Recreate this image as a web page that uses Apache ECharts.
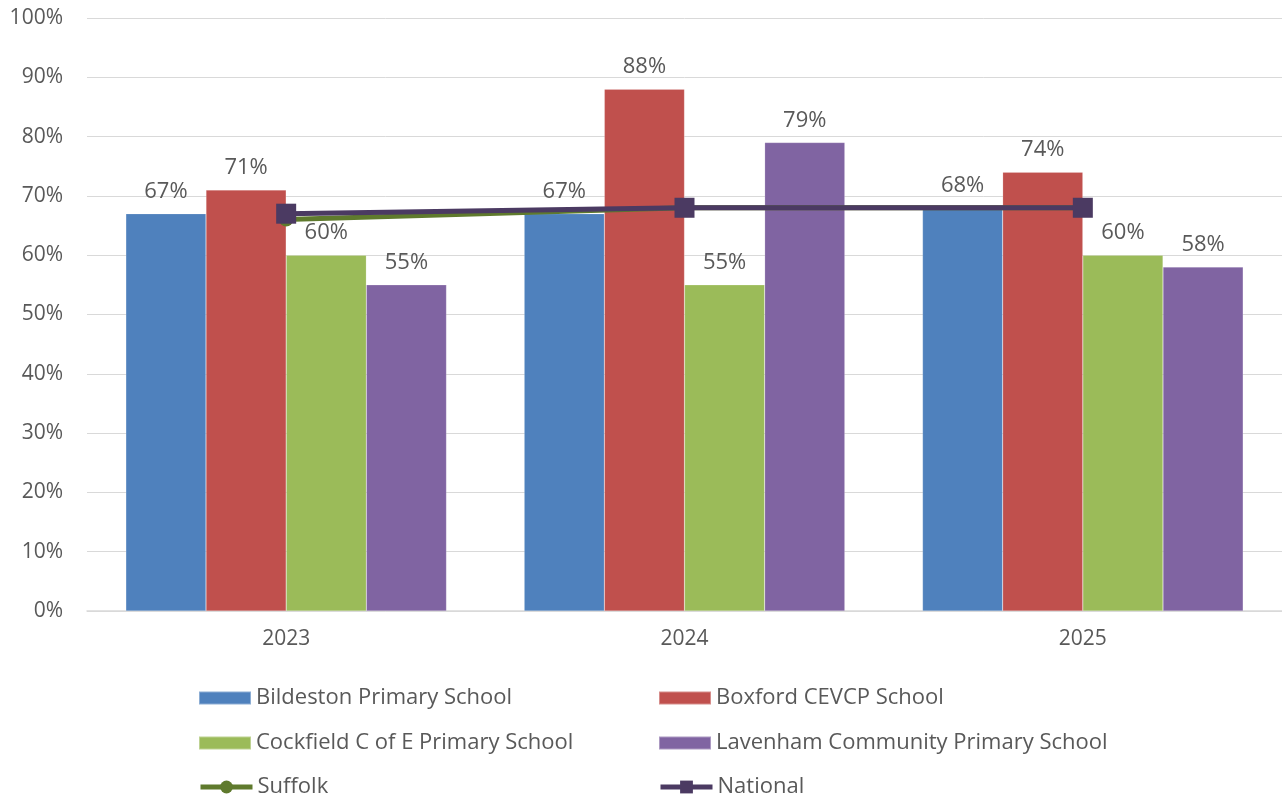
<!DOCTYPE html>
<html><head><meta charset="utf-8">
<script src="https://cdn.jsdelivr.net/npm/echarts@6/dist/echarts.min.js"></script>
<style>html,body{margin:0;padding:0;background:#fff}#c{width:1282px;height:799px}</style>
</head><body><div id="c"></div>
<script>
const categories = ['2023', '2024', '2025'];
const bildeston = [67, 67, 68];
const boxford = [71, 88, 74];
const cockfield = [60, 55, 60];
const lavenham = [55, 79, 58];
const suffolk = [66, 68, 68];
const national = [67, 68, 68];
const yTicks = { min: 0, max: 100, interval: 10 };

const FONT = '"Open Sans", "Noto Sans", sans-serif';
const TXT = '#595959';
const C = { bil: '#4f81bd', box: '#c0504d', coc: '#9bbb59', lav: '#8064a2', suf: '#5f7a2d', nat: '#4b3a62' };
const barLabel = { show: true, position: 'top', distance: 11, formatter: '{c}%', color: TXT, fontSize: 22, fontFamily: FONT };
function bar(name, data, color) {
  return { name, type: 'bar', data, barGap: '0%', barCategoryGap: '19.5%',
    itemStyle: { color, borderColor: 'rgba(255,255,255,0.35)', borderWidth: 0.5 }, label: barLabel };
}
function leg(name, left, top, isLine, color) {
  const item = { name };
  if (isLine) { item.lineStyle = { width: 5, color }; }
  else { item.icon = 'rect'; }
  return { left, top, itemWidth: 52, itemHeight: isLine ? 16 : 13, selectedMode: false,
    textStyle: { color: TXT, fontSize: 22, fontFamily: FONT }, data: [item] };
}
const chart = echarts.init(document.getElementById('c'));
chart.setOption({
  animation: false,
  grid: { left: 87, right: 0, top: 18, bottom: 188 },
  xAxis: { type: 'category', data: categories,
    axisLine: { lineStyle: { color: '#d9d9d9', width: 1.5 } }, axisTick: { show: false },
    axisLabel: { color: TXT, fontSize: 21, fontFamily: FONT, margin: 18 } },
  yAxis: { type: 'value', min: yTicks.min, max: yTicks.max, interval: yTicks.interval,
    axisLabel: { formatter: '{value}%', color: TXT, fontSize: 21, fontFamily: FONT, margin: 24 },
    splitLine: { lineStyle: { color: '#d9d9d9', width: 1 } }, axisLine: { show: false } },
  legend: [
    leg('Bildeston Primary School', 193, 682, false),
    leg('Cockfield C of E Primary School', 193, 727, false),
    leg('Suffolk', 193, 771, true, C.suf),
    leg('Boxford CEVCP School', 653, 682, false),
    leg('Lavenham Community Primary School', 653, 727, false),
    leg('National', 653, 771, true, C.nat)
  ],
  series: [
    bar('Bildeston Primary School', bildeston, C.bil),
    bar('Boxford CEVCP School', boxford, C.box),
    bar('Cockfield C of E Primary School', cockfield, C.coc),
    bar('Lavenham Community Primary School', lavenham, C.lav),
    { name: 'Suffolk', type: 'line', data: suffolk, symbol: 'circle', symbolSize: 14,
      lineStyle: { color: C.suf, width: 5 }, itemStyle: { color: C.suf }, z: 5 },
    { name: 'National', type: 'line', data: national, symbol: 'rect', symbolSize: 20,
      lineStyle: { color: C.nat, width: 5 }, itemStyle: { color: C.nat }, z: 6 }
  ]
});
</script></body></html>
